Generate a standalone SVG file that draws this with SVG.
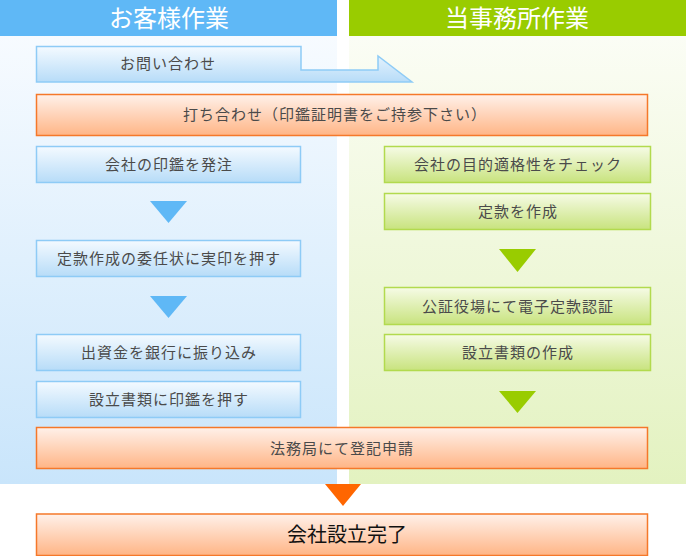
<svg xmlns="http://www.w3.org/2000/svg" width="686" height="556" viewBox="0 0 686 556">
<defs>
<linearGradient id="colL" x1="0" y1="0" x2="0" y2="1"><stop offset="0" stop-color="#f7fbff"/><stop offset="1" stop-color="#c9e5fb"/></linearGradient>
<linearGradient id="colR" x1="0" y1="0" x2="0" y2="1"><stop offset="0" stop-color="#fbfdf5"/><stop offset="1" stop-color="#e3f2c0"/></linearGradient>
<linearGradient id="gBlue" x1="0" y1="0" x2="0" y2="1"><stop offset="0" stop-color="#f4faff"/><stop offset="1" stop-color="#b7dcf8"/></linearGradient>
<linearGradient id="gGreen" x1="0" y1="0" x2="0" y2="1"><stop offset="0" stop-color="#f6fbe6"/><stop offset="1" stop-color="#c8e37e"/></linearGradient>
<linearGradient id="gOrange" x1="0" y1="0" x2="0" y2="1"><stop offset="0" stop-color="#fff1ea"/><stop offset="1" stop-color="#ffb586"/></linearGradient>
</defs>
<style>
.blue{fill:url(#gBlue);stroke:#8ecbf6;stroke-width:1.5}
.green{fill:url(#gGreen);stroke:#b2da4e;stroke-width:1.5}
.orange{fill:url(#gOrange);stroke:#f5782a;stroke-width:1.5}
.t{font-family:"Noto Sans CJK JP","Noto Sans CJK SC",sans-serif;font-size:15px;fill:#4a4a4a;text-anchor:middle;letter-spacing:1px}
.h{font-family:"Noto Sans CJK JP","Noto Sans CJK SC",sans-serif;font-size:24px;fill:#fff;text-anchor:middle}
.big{font-family:"Noto Sans CJK JP","Noto Sans CJK SC",sans-serif;font-size:20px;fill:#111;text-anchor:middle}
</style>
<rect x="0" y="0" width="686" height="556" fill="#fff"/>
<g id="columns">
<rect x="0" y="36" width="337" height="448" fill="url(#colL)"/>
<rect x="349" y="36" width="337" height="448" fill="url(#colR)"/>
</g>
<g id="header-customer"><rect x="0" y="0" width="337" height="36" fill="#5fb8f6"/><text class="h" x="169" y="27">お客様作業</text></g>
<g id="header-office"><rect x="349" y="0" width="337" height="36" fill="#99cc00"/><text class="h" x="517" y="27">当事務所作業</text></g>
<g id="connectors">
<polygon points="150,201 187,201 168.5,223" fill="#5fb8f6"/>
<polygon points="150,296 187,296 168.5,318" fill="#5fb8f6"/>
<polygon points="499,249 536,249 517.5,272" fill="#99cc00"/>
<polygon points="499,391 536,391 517.5,413" fill="#99cc00"/>
<polygon points="325,484 361,484 343,506" fill="#ff6600"/>
</g>
<g id="n-inquiry"><polygon class="blue" points="36.5,46.5 301,46.5 301,70 378,70 378,56 412,82 36.5,82"/><text class="t" x="168" y="69">お問い合わせ</text></g>
<g id="n-meeting"><rect class="orange" x="36.5" y="94.5" width="611" height="41"/><text class="t" x="335" y="120">打ち合わせ（印鑑証明書をご持参下さい）</text></g>
<g id="n-seal"><rect class="blue" x="36.5" y="146.5" width="264" height="36"/><text class="t" x="169" y="170">会社の印鑑を発注</text></g>
<g id="n-proxy"><rect class="blue" x="36.5" y="240.5" width="264" height="36"/><text class="t" x="169" y="264">定款作成の委任状に実印を押す</text></g>
<g id="n-capital"><rect class="blue" x="36.5" y="334.5" width="264" height="36"/><text class="t" x="169" y="358">出資金を銀行に振り込み</text></g>
<g id="n-stamp"><rect class="blue" x="36.5" y="381.5" width="264" height="36"/><text class="t" x="169" y="405">設立書類に印鑑を押す</text></g>
<g id="n-check"><rect class="green" x="384.5" y="146.5" width="266" height="36"/><text class="t" x="518" y="170">会社の目的適格性をチェック</text></g>
<g id="n-articles"><rect class="green" x="384.5" y="193.5" width="266" height="36"/><text class="t" x="518" y="217">定款を作成</text></g>
<g id="n-notary"><rect class="green" x="384.5" y="287.5" width="266" height="37"/><text class="t" x="518" y="312">公証役場にて電子定款認証</text></g>
<g id="n-docs"><rect class="green" x="384.5" y="334.5" width="266" height="36"/><text class="t" x="518" y="358">設立書類の作成</text></g>
<g id="n-register"><rect class="orange" x="36.5" y="427.5" width="611" height="41"/><text class="t" x="342" y="454">法務局にて登記申請</text></g>
<g id="n-complete"><rect class="orange" x="36.5" y="514" width="611" height="41.5"/><text class="big" x="347" y="542">会社設立完了</text></g>
</svg>
